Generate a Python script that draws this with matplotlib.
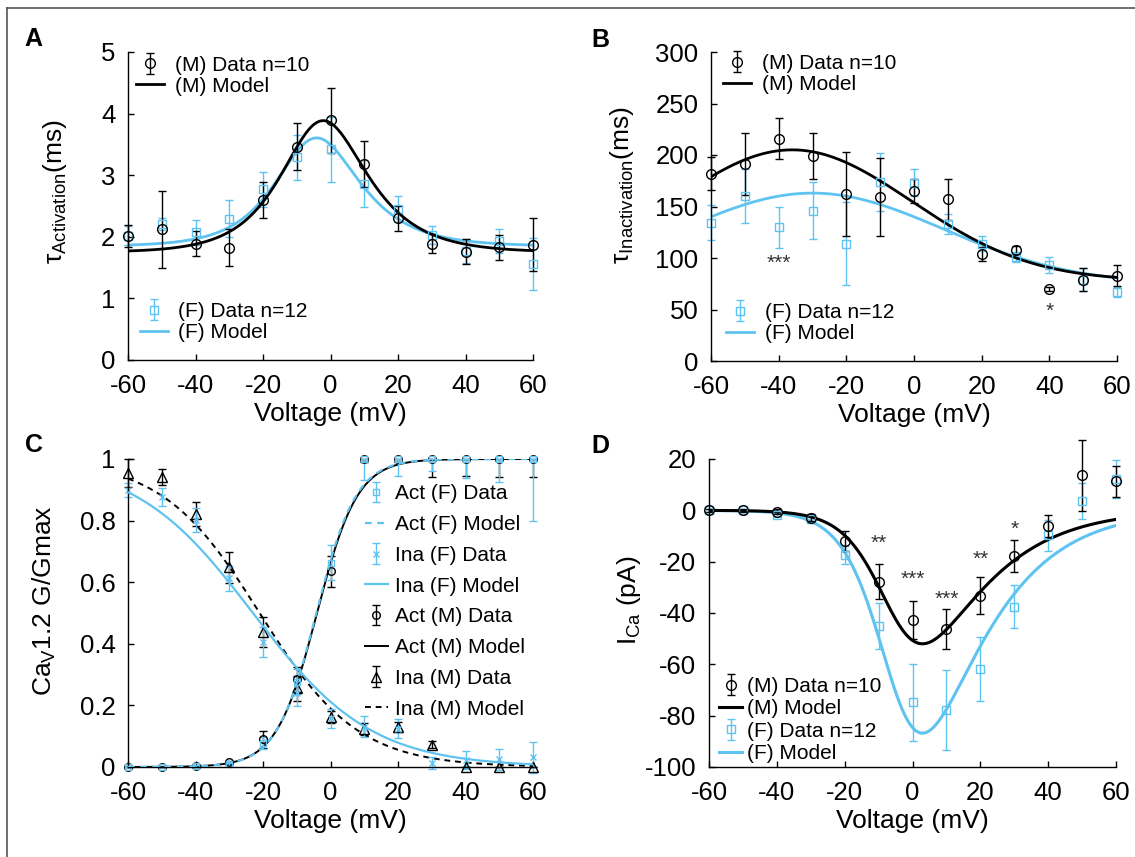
import numpy as np
import matplotlib
matplotlib.use('Agg')
import matplotlib.pyplot as plt

plt.rcParams['font.family'] = ['Liberation Sans', 'DejaVu Sans']
plt.rcParams['mathtext.fontset'] = 'custom'
plt.rcParams['mathtext.rm'] = 'Liberation Sans'
plt.rcParams['mathtext.it'] = 'Liberation Sans:italic'
plt.rcParams['axes.unicode_minus'] = False

BLUE = '#5EC3F0'
volt = [-60, -50, -40, -30, -20, -10, 0, 10, 20, 30, 40, 50, 60]

# A: activation time constant (ms)
tact_m = [2.01, 2.12, 1.89, 1.82, 2.60, 3.46, 3.89, 3.18, 2.30, 1.89, 1.76, 1.83, 1.87]
tact_m_err = [0.18, 0.62, 0.20, 0.30, 0.29, 0.38, 0.53, 0.37, 0.20, 0.15, 0.20, 0.20, 0.43]
tact_f = [2.02, 2.21, 2.07, 2.29, 2.77, 3.29, 3.42, 2.86, 2.45, 2.03, 1.77, 1.93, 1.56]
tact_f_err = [0.15, 0.10, 0.20, 0.30, 0.29, 0.37, 0.53, 0.38, 0.21, 0.15, 0.20, 0.20, 0.42]
# model params: a, b, V0, k1, k2
tact_m_par = [1.75, 4.26, -3.0, 12.3, 10.6]
tact_f_par = [1.85, 3.50, -5.0, 12.1, 10.3]

# B: inactivation time constant (ms)
tina_m = [182, 191, 216, 199, 162, 159, 165, 157, 104, 108, 70, 79, 83]
tina_m_err = [16, 30, 20, 22, 41, 38, 12, 20, 7, 4, 2, 11, 10]
tina_f = [134, 160, 130, 146, 114, 174, 173, 133, 114, 101, 93, 79, 67]
tina_f_err = [17, 26, 20, 28, 40, 28, 13, 10, 7, 5, 8, 11, 5]
# model params: a, b, Vp, w
tina_m_par = [78, 127, -36, 50]
tina_f_par = [75, 88, -30, 54.5]
stars_b = [(-40, 95, '***'), (40, 48, '*')]

# C: normalized conductance
act_f = [0.0, 0.0, 0.003, 0.01, 0.077, 0.277, 0.663, 1.0, 1.0, 1.0, 1.0, 1.0, 1.0]
act_f_lo = [0.0, 0.0, 0.003, 0.005, 0.02, 0.04, 0.057, 0.068, 0.055, 0.04, 0.062, 0.074, 0.20]
act_f_hi = [0.0, 0.0, 0.003, 0.005, 0.02, 0.04, 0.057, 0.0, 0.0, 0.0, 0.0, 0.0, 0.0]
ina_f = [0.899, 0.877, 0.802, 0.613, 0.406, 0.239, 0.158, 0.131, 0.125, 0.014, 0.023, 0.025, 0.031]
ina_f_err = [0.023, 0.03, 0.04, 0.04, 0.05, 0.04, 0.03, 0.035, 0.03, 0.02, 0.03, 0.035, 0.05]
act_m = [0.0, 0.0, 0.002, 0.015, 0.09, 0.285, 0.636, 1.0, 1.0, 1.0, 1.0, 1.0, 1.0]
act_m_lo = [0.0, 0.0, 0.002, 0.005, 0.028, 0.04, 0.05, 0.01, 0.01, 0.06, 0.056, 0.06, 0.06]
act_m_hi = [0.0, 0.0, 0.002, 0.005, 0.028, 0.04, 0.05, 0.0, 0.0, 0.0, 0.0, 0.0, 0.0]
ina_m = [0.955, 0.942, 0.822, 0.649, 0.438, 0.255, 0.163, 0.123, 0.13, 0.073, 0.0, 0.0, 0.0]
ina_m_err = [0.045, 0.025, 0.04, 0.05, 0.05, 0.04, 0.02, 0.02, 0.015, 0.01, 0.0, 0.0, 0.0]
# Boltzmann params: Vh, k
act_m_par = [-4.0, 6.0]
act_f_par = [-4.2, 5.9]
ina_m_par = [-21.0, 14.5]
ina_f_par = [-23.0, 17.5]

# D: peak current (pA)
ica_m = [0.0, 0.0, -0.6, -2.8, -11.9, -27.8, -42.7, -46.2, -33.2, -17.9, -6.1, 13.6, 11.3]
ica_m_err = [0.5, 0.5, 1.0, 1.5, 4.0, 6.7, 7.5, 7.7, 7.3, 6.2, 4.2, 13.7, 6.0]
ica_f = [0.0, 0.0, -1.7, -3.5, -17.5, -45.0, -74.7, -77.7, -61.9, -37.5, -9.7, 3.5, 12.3]
ica_f_err = [0.5, 0.5, 1.0, 1.5, 3.5, 9.0, 15.0, 15.5, 12.5, 8.4, 6.0, 7.0, 7.5]
# model params: g, s (driving force scale)
ica_m_par = [5.9, 13.0]
ica_f_par = [9.85, 13.0]
stars_d = [(-10, -13, '**'), (0, -27, '***'), (10, -34.5, '***'), (20, -19, '**'), (30, -7.5, '*')]

vv = np.linspace(-60, 60, 400)


def tau_act(v, p):
  a, b, v0, k1, k2 = p
  return a + b / (np.exp((v - v0) / k1) + np.exp(-(v - v0) / k2))


def tau_ina(v, p):
  a, b, vp, w = p
  return a + b * np.exp(-((v - vp) / w) ** 2)


def boltz_act(v, p):
  return 1.0 / (1.0 + np.exp(-(v - p[0]) / p[1]))


def boltz_ina(v, p):
  return 1.0 / (1.0 + np.exp((v - p[0]) / p[1]))


def ica(v, p):
  g, s = p
  drive = np.where(np.abs(v) < 1e-9, s, v / np.expm1(v / s))
  return -g * boltz_act(v, act_m_par) * drive


W, H = 1135, 857
fig = plt.figure(figsize=(W / 100, H / 100), dpi=100)


def make_ax(left, top, right, bottom):
  return fig.add_axes([left / W, 1 - bottom / H, (right - left) / W, (bottom - top) / H])


axA = make_ax(128, 52, 533, 360)
axB = make_ax(711, 52, 1117, 361)
axC = make_ax(128, 459, 533, 767)
axD = make_ax(709, 459, 1116, 767)

for ax in [axA, axB, axC, axD]:
  for s in ['top', 'right']:
    ax.spines[s].set_visible(False)
  for s in ['left', 'bottom']:
    ax.spines[s].set_linewidth(1.0)
  ax.tick_params(direction='in', length=4, width=1, labelsize=18.5)
  ax.tick_params(axis='x', pad=10)
  ax.tick_params(axis='y', pad=9)
  ax.set_xlim(-60, 60)
  ax.set_xticks(range(-60, 61, 20))
  ax.set_xlabel('Voltage (mV)', fontsize=19, labelpad=3)

eb_kw = dict(elinewidth=1.0, capsize=3, capthick=1.0, mfc='none', mew=1.0,
             linestyle='none', clip_on=False)
leg_kw = dict(frameon=False, fontsize=15, borderpad=0, borderaxespad=0,
              handlelength=1.35, handletextpad=0.5, labelspacing=0.1)

# ---- A
ef = axA.errorbar(volt, tact_f, yerr=tact_f_err, fmt='s', ms=5.5, color=BLUE, **eb_kw)
lf, = axA.plot(vv, tau_act(vv, tact_f_par), color=BLUE, lw=2)
em = axA.errorbar(volt, tact_m, yerr=tact_m_err, fmt='o', ms=7, color='black', **eb_kw)
lm, = axA.plot(vv, tau_act(vv, tact_m_par), color='black', lw=2)
axA.set_ylim(0, 5)
axA.set_yticks(range(0, 6))
axA.set_ylabel(r'τ$_{\mathrm{Activation}}$(ms)', fontsize=19)
axA.yaxis.set_label_coords(-0.146, 0.545)
l1 = axA.legend([em, lm], ['(M) Data n=10', '(M) Model'], loc='upper left',
                bbox_to_anchor=(0.02, 0.988), **leg_kw)
axA.add_artist(l1)
axA.legend([ef, lf], ['(F) Data n=12', '(F) Model'], loc='upper left',
           bbox_to_anchor=(0.029, 0.188), **leg_kw)

# ---- B
ef = axB.errorbar(volt, tina_f, yerr=tina_f_err, fmt='s', ms=5.5, color=BLUE, **eb_kw)
lf, = axB.plot(vv, tau_ina(vv, tina_f_par), color=BLUE, lw=2)
em = axB.errorbar(volt, tina_m, yerr=tina_m_err, fmt='o', ms=7, color='black', **eb_kw)
lm, = axB.plot(vv, tau_ina(vv, tina_m_par), color='black', lw=2)
for x, y, t in stars_b:
  axB.text(x, y, t, ha='center', va='center', fontsize=15, color='#333333')
axB.set_ylim(0, 300)
axB.set_yticks(range(0, 301, 50))
axB.set_ylabel(r'τ$_{\mathrm{Inactivation}}$(ms)', fontsize=19)
axB.yaxis.set_label_coords(-0.185, 0.57)
l1 = axB.legend([em, lm], ['(M) Data n=10', '(M) Model'], loc='upper left',
                bbox_to_anchor=(0.03, 0.993), **leg_kw)
axB.add_artist(l1)
axB.legend([ef, lf], ['(F) Data n=12', '(F) Model'], loc='upper left',
           bbox_to_anchor=(0.037, 0.188), **leg_kw)

# ---- C
lam, = axC.plot(vv, boltz_act(vv, act_m_par), color='black', lw=1.4, zorder=2)
lim, = axC.plot(vv, boltz_ina(vv, ina_m_par), color='black', lw=1.4, ls=(0, (3, 2.5)), zorder=2)
eam = axC.errorbar(volt, act_m, yerr=[act_m_lo, act_m_hi], fmt='o', ms=5.5, color='black', **eb_kw)
eim = axC.errorbar(volt, ina_m, yerr=ina_m_err, fmt='^', ms=6.5, color='black', **eb_kw)
eaf = axC.errorbar(volt, act_f, yerr=[act_f_lo, act_f_hi], fmt='s', ms=4.5, color=BLUE, **eb_kw)
laf, = axC.plot(vv, boltz_act(vv, act_f_par), color=BLUE, lw=1.6, ls=(0, (3, 2.5)), zorder=3)
eif = axC.errorbar(volt, ina_f, yerr=ina_f_err, fmt='x', ms=4.5, color=BLUE, **eb_kw)
lif, = axC.plot(vv, boltz_ina(vv, ina_f_par), color=BLUE, lw=1.6, zorder=3)
axC.set_ylim(0, 1)
cticks = [0, 0.2, 0.4, 0.6, 0.8, 1]
axC.set_yticks(cticks)
axC.set_yticklabels(['0', '0.2', '0.4', '0.6', '0.8', '1'])
axC.set_ylabel(r'Ca$_{\mathrm{V}}$1.2 G/Gmax', fontsize=19)
axC.yaxis.set_label_coords(-0.173, 0.54)
ckw = dict(leg_kw)
ckw.update(handlelength=1.1, handletextpad=0.35, labelspacing=0.565)
axC.legend([eaf, laf, eif, lif, eam, lam, eim, lim],
           ['Act (F) Data', 'Act (F) Model', 'Ina (F) Data', 'Ina (F) Model',
            'Act (M) Data', 'Act (M) Model', 'Ina (M) Data', 'Ina (M) Model'],
           loc='upper left', bbox_to_anchor=(0.585, 0.918), **ckw)

# ---- D
ef = axD.errorbar(volt, ica_f, yerr=ica_f_err, fmt='s', ms=5.5, color=BLUE, **eb_kw)
lf, = axD.plot(vv, ica(vv, ica_f_par), color=BLUE, lw=2.2)
em = axD.errorbar(volt, ica_m, yerr=ica_m_err, fmt='o', ms=7, color='black', **eb_kw)
lm, = axD.plot(vv, ica(vv, ica_m_par), color='black', lw=2.2)
for x, y, t in stars_d:
  axD.text(x, y, t, ha='center', va='center', fontsize=15, color='#333333')
axD.set_ylim(-100, 20)
axD.set_yticks(range(-100, 21, 20))
axD.set_ylabel(r'I$_{\mathrm{Ca}}$ (pA)', fontsize=19)
axD.yaxis.set_label_coords(-0.162, 0.54)
dkw = dict(leg_kw)
dkw.update(handlelength=1.1, handletextpad=0.25, labelspacing=0.16)
axD.legend([em, lm, ef, lf], ['(M) Data n=10', '(M) Model', '(F) Data n=12', '(F) Model'],
           loc='upper left', bbox_to_anchor=(0.025, 0.292), **dkw)

# panel letters
for x, y, t in [(33, 39, 'A'), (600, 40, 'B'), (34, 445, 'C'), (600, 446, 'D')]:
  fig.text(x / W, 1 - y / H, t, fontsize=18, fontweight='bold', ha='center', va='center')

# frame
fig.add_artist(plt.Line2D([7 / W, 7 / W], [0, 1 - 8 / H], transform=fig.transFigure,
                          color='#555555', lw=1.2))
fig.add_artist(plt.Line2D([7 / W, 1], [1 - 8 / H, 1 - 8 / H], transform=fig.transFigure,
                          color='#555555', lw=1.2))

fig.savefig('out.png', dpi=100)
